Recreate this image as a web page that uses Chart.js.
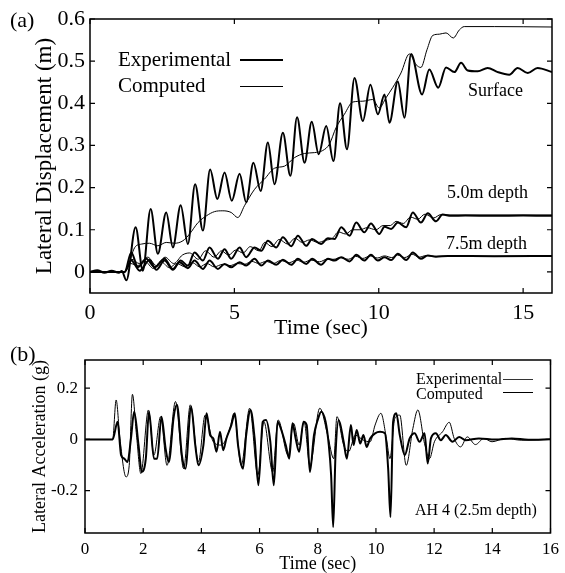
<!DOCTYPE html>
<html>
<head>
<meta charset="utf-8">
<script src="https://cdn.jsdelivr.net/npm/chart.js@4.4.1/dist/chart.umd.min.js"></script>
<style>
  body { margin: 0; background: #fff; }
  #wrap { position: relative; width: 565px; height: 573px; overflow: hidden; font-family: 'Liberation Serif', 'Times New Roman', serif; color: #000; }
  canvas { position: absolute; left: 0; }
  .t { position: absolute; white-space: nowrap; line-height: 1; }
  .ln { position: absolute; border-top: solid #000; height: 0; }
</style>
</head>
<body>
<div id="wrap">
  <canvas id="chartA" width="565" height="345" style="top:0"></canvas>
  <canvas id="chartB" width="565" height="233" style="top:340px"></canvas>

  <div class="t" style="left:10px;top:9px;font-size:22px">(a)</div>
  <div class="t" style="left:118px;top:49px;font-size:21px">Experimental</div>
  <div class="t" style="left:118px;top:75px;font-size:21px">Computed</div>
  <div class="ln" style="left:240px;top:59px;width:43px;border-top-width:2px"></div>
  <div class="ln" style="left:240px;top:86px;width:43px;border-top-width:1px"></div>
  <div class="t" style="left:468px;top:81px;font-size:18px">Surface</div>
  <div class="t" style="left:447px;top:183px;font-size:18px">5.0m depth</div>
  <div class="t" style="left:446px;top:234px;font-size:18px">7.5m depth</div>

  <div class="t" style="left:10px;top:343px;font-size:22px">(b)</div>
  <div class="t" style="left:416px;top:371px;font-size:16px">Experimental</div>
  <div class="t" style="left:416px;top:386px;font-size:16px">Computed</div>
  <div class="ln" style="left:503px;top:379px;width:30px;border-top-width:1px;border-top-color:#333"></div>
  <div class="ln" style="left:503px;top:392px;width:30px;border-top-width:1.5px"></div>
  <div class="t" style="left:415px;top:502px;font-size:16px">AH 4 (2.5m depth)</div>
</div>

<script>
// (a) lateral displacement, [time s, displacement m]
var surfaceExp = [[0,0],[0.25,0.004],[0.5,-0.002],[0.75,0.003],[1.0,-0.002],[1.1,0.002],[1.26,-0.02],
  [1.58,0.106],[1.83,0.003],[2.10,0.149],[2.35,0.043],[2.64,0.141],[2.87,0.058],[3.14,0.158],[3.39,0.066],
  [3.64,0.208],[3.91,0.098],[4.16,0.243],[4.41,0.173],[4.66,0.236],[4.91,0.169],[5.18,0.233],[5.41,0.165],
  [5.66,0.259],[5.91,0.192],[6.16,0.307],[6.39,0.208],[6.68,0.330],[6.94,0.228],[7.17,0.367],[7.43,0.259],
  [7.68,0.356],[7.92,0.279],[8.18,0.346],[8.43,0.263],[8.66,0.400],[8.90,0.291],[9.16,0.460],[9.45,0.358],
  [9.71,0.444],[9.97,0.374],[10.20,0.421],[10.37,0.354],[10.66,0.452],[10.89,0.366],[11.12,0.517],[11.50,0.421],
  [11.75,0.480],[12.06,0.437],[12.33,0.485],[12.62,0.474],[12.85,0.496],[13.08,0.478],[13.43,0.476],[13.77,0.484],
  [14.12,0.474],[14.52,0.468],[14.81,0.484],[15.16,0.472],[15.50,0.484],[16.0,0.474]];
var surfaceComp = [[0,0],[1.2,0],[1.3,0.01],[1.55,0.058],[1.78,0.066],[2.06,0.068],[2.35,0.062],[2.64,0.070],
  [2.93,0.068],[3.22,0.074],[3.45,0.090],[3.74,0.117],[4.03,0.133],[4.31,0.143],[4.60,0.145],[4.89,0.141],
  [5.12,0.129],[5.35,0.157],[5.70,0.196],[6.04,0.220],[6.39,0.246],[6.74,0.251],[7.08,0.271],[7.43,0.281],
  [7.77,0.283],[8.06,0.288],[8.29,0.303],[8.52,0.342],[8.81,0.374],[9.10,0.403],[9.45,0.405],[9.79,0.409],
  [10.02,0.389],[10.25,0.413],[10.48,0.437],[10.77,0.472],[11.06,0.517],[11.29,0.492],[11.46,0.485],[11.67,0.527],
  [11.87,0.561],[12.10,0.564],[12.33,0.567],[12.58,0.555],[12.79,0.574],[12.96,0.582],[14.0,0.582],[16.0,0.581]];
var depth50Exp = [[0,0],[1.2,0],[1.43,0.046],[1.66,0.011],[1.95,0.031],[2.24,0.011],[2.58,0.031],[2.87,0.007],
  [3.14,0.027],[3.39,0.015],[3.62,0.046],[3.91,0.027],[4.14,0.058],[4.43,0.031],[4.66,0.054],[4.89,0.031],
  [5.18,0.058],[5.41,0.035],[5.70,0.058],[5.93,0.050],[6.16,0.074],[6.45,0.058],[6.68,0.082],[6.97,0.061],
  [7.20,0.086],[7.49,0.062],[7.69,0.078],[8.00,0.066],[8.24,0.080],[8.47,0.078],[8.70,0.106],[8.99,0.086],
  [9.22,0.117],[9.50,0.094],[9.73,0.115],[10.02,0.090],[10.20,0.107],[10.43,0.102],[10.66,0.117],[10.95,0.106],
  [11.18,0.141],[11.46,0.117],[11.70,0.139],[11.98,0.120],[12.21,0.136],[12.50,0.133],[13.0,0.134],[14.0,0.133],
  [15.0,0.134],[16.0,0.133]];
var depth50Comp = [[0,0],[1.2,0],[1.45,0.03],[1.7,0.02],[2.0,0.035],[2.3,0.015],[2.6,0.035],[2.9,0.02],
  [3.2,0.04],[3.45,0.045],[3.75,0.03],[4.0,0.05],[4.3,0.035],[4.55,0.05],[4.8,0.04],[5.05,0.052],[5.3,0.045],
  [5.55,0.06],[5.85,0.05],[6.05,0.07],[6.3,0.06],[6.55,0.077],[6.85,0.066],[7.1,0.08],[7.35,0.07],[7.6,0.076],
  [7.9,0.07],[8.15,0.075],[8.4,0.08],[8.6,0.095],[8.85,0.09],[9.1,0.1],[9.35,0.1],[9.6,0.105],[9.9,0.1],
  [10.15,0.11],[10.4,0.11],[10.6,0.12],[10.85,0.115],[11.1,0.13],[11.35,0.125],[11.6,0.137],[11.9,0.128],
  [12.15,0.136],[12.5,0.135],[16.0,0.135]];
var depth75Exp = [[0,0],[1.2,0],[1.43,0.027],[1.72,0.003],[2.06,0.028],[2.30,0.005],[2.58,0.027],[2.87,0.005],
  [3.10,0.023],[3.39,0.009],[3.62,0.027],[3.91,0.007],[4.14,0.027],[4.43,0.007],[4.66,0.019],[4.89,0.011],
  [5.18,0.023],[5.41,0.015],[5.70,0.031],[5.93,0.015],[6.16,0.027],[6.45,0.017],[6.68,0.029],[6.97,0.017],
  [7.20,0.031],[7.49,0.019],[7.69,0.031],[8.00,0.017],[8.24,0.031],[8.47,0.027],[8.70,0.035],[8.99,0.025],
  [9.22,0.041],[9.50,0.027],[9.73,0.041],[9.97,0.027],[10.20,0.035],[10.43,0.028],[10.66,0.043],[10.95,0.028],
  [11.18,0.046],[11.46,0.031],[11.70,0.039],[11.98,0.036],[12.39,0.038],[14.0,0.037],[16.0,0.038]];
var depth75Comp = [[0,0],[1.2,0],[1.4,0.02],[1.65,0.015],[1.9,0.025],[2.2,0.008],[2.45,0.025],[2.75,0.01],
  [3.0,0.02],[3.3,0.012],[3.55,0.022],[3.8,0.012],[4.05,0.02],[4.3,0.012],[4.6,0.018],[4.85,0.015],[5.1,0.02],
  [5.35,0.018],[5.6,0.025],[5.85,0.02],[6.1,0.025],[6.35,0.02],[6.6,0.027],[6.9,0.022],[7.15,0.028],[7.4,0.023],
  [7.65,0.028],[7.95,0.024],[8.2,0.03],[8.45,0.03],[8.65,0.034],[8.95,0.03],[9.2,0.037],[9.45,0.032],[9.7,0.038],
  [9.95,0.033],[10.2,0.038],[10.45,0.034],[10.65,0.04],[10.9,0.034],[11.15,0.042],[11.4,0.035],[11.65,0.039],
  [12.0,0.037],[16.0,0.037]];

// (b) lateral acceleration at AH4, [time s, acceleration g]
var accelExp = [[0,0],[0.95,0],[1.12,0.069],[1.24,-0.061],[1.35,-0.075],[1.46,-0.088],[1.58,0.004],[1.69,0.108],
  [1.84,-0.022],[1.95,-0.127],[2.09,-0.075],[2.20,0.108],[2.37,-0.075],[2.48,-0.075],[2.63,0.089],[2.77,-0.035],
  [2.88,-0.088],[3.05,0.089],[3.16,0.135],[3.33,-0.061],[3.45,-0.114],[3.65,0.128],[3.79,-0.022],[3.90,-0.101],
  [4.07,-0.022],[4.18,0.102],[4.30,0.017],[4.41,0.004],[4.52,-0.048],[4.64,0.030],[4.75,-0.042],[4.86,0.004],
  [5.03,0.056],[5.15,0.102],[5.26,-0.022],[5.43,-0.114],[5.54,0.017],[5.69,0.115],[5.83,0.004],[5.96,-0.179],
  [6.11,0.069],[6.22,0.076],[6.37,-0.009],[6.49,-0.179],[6.62,0.069],[6.73,0.043],[6.90,-0.022],[7.02,-0.075],
  [7.13,0.063],[7.24,0.004],[7.36,-0.048],[7.51,0.069],[7.62,0.056],[7.73,-0.127],[7.87,0.017],[8.00,0.076],
  [8.12,0.108],[8.27,0.069],[8.38,-0.022],[8.46,-0.140],[8.53,-0.342],[8.61,-0.061],[8.72,0.076],[8.89,-0.009],
  [9.00,-0.075],[9.14,0.056],[9.23,-0.022],[9.34,0.037],[9.46,-0.016],[9.57,0.017],[9.68,-0.029],[9.80,0.004],
  [9.97,0.024],[10.14,0.030],[10.31,0.024],[10.42,-0.114],[10.50,-0.303],[10.59,0.069],[10.70,0.102],[10.82,0.017],
  [10.99,-0.061],[11.16,0.004],[11.33,0.024],[11.50,-0.009],[11.67,0.024],[11.78,-0.094],[11.89,0.004],[12.06,0.024],
  [12.23,-0.003],[12.40,0.017],[12.63,-0.009],[12.86,0.010],[13.08,-0.003],[13.54,0.004],[14.10,0],[14.67,0.004],
  [15.24,-0.001],[16.0,0.001]];
var accelComp = [[0,0],[0.95,0],[1.07,0.154],[1.20,0.004],[1.41,-0.146],[1.52,-0.101],[1.63,0.176],[1.77,0.017],
  [1.92,-0.133],[2.18,0.115],[2.37,-0.061],[2.60,0.089],[2.82,-0.101],[3.11,0.148],[3.39,-0.114],[3.62,0.135],
  [3.90,-0.088],[4.13,0.095],[4.41,-0.009],[4.69,-0.022],[4.98,0.043],[5.12,0.102],[5.37,-0.101],[5.66,0.122],
  [5.94,-0.140],[6.15,0.069],[6.45,-0.127],[6.64,0.076],[6.98,-0.061],[7.17,0.063],[7.36,-0.022],[7.53,0.069],
  [7.73,-0.101],[8.07,0.122],[8.34,0.017],[8.55,-0.075],[8.66,0.089],[8.89,-0.022],[9.06,-0.048],[9.29,0.017],
  [9.57,-0.003],[9.80,-0.009],[9.97,0.056],[10.17,0.102],[10.36,0.004],[10.48,-0.075],[10.65,0.082],[10.82,0.095],
  [11.04,-0.101],[11.27,0.043],[11.44,0.115],[11.67,-0.016],[11.84,-0.075],[12.01,-0.009],[12.29,0.030],[12.52,0.067],
  [12.69,0.004],[12.91,-0.029],[13.14,0.010],[13.42,-0.020],[13.71,0.004],[13.99,-0.009],[14.44,0.004],[15.01,-0.003],
  [16.0,0]];

Chart.defaults.font.family = "'Liberation Serif', 'Times New Roman', serif";
Chart.defaults.color = '#000';

function pts(arr) {
    return arr.map(function (p) { return { x: p[0], y: p[1] }; });
}

function series(arr, width) {
    return {
        data: pts(arr),
        borderColor: '#000',
        borderWidth: width,
        pointRadius: 0,
        fill: false,
        cubicInterpolationMode: 'monotone'
    };
}

// box round the plot and inward tick marks on all four sides
var frame = {
    id: 'frame',
    afterDraw: function (chart) {
        var ctx = chart.ctx, a = chart.chartArea, x = chart.scales.x, y = chart.scales.y;
        ctx.save();
        ctx.strokeStyle = '#000';
        ctx.lineWidth = 1.5;
        ctx.strokeRect(a.left, a.top, a.right - a.left, a.bottom - a.top);
        ctx.lineWidth = 1.2;
        ctx.beginPath();
        x.ticks.forEach(function (t) {
            var px = x.getPixelForValue(t.value);
            ctx.moveTo(px, a.bottom); ctx.lineTo(px, a.bottom - 5);
            ctx.moveTo(px, a.top); ctx.lineTo(px, a.top + 5);
        });
        y.ticks.forEach(function (t) {
            var py = y.getPixelForValue(t.value);
            ctx.moveTo(a.left, py); ctx.lineTo(a.left + 5, py);
            ctx.moveTo(a.right, py); ctx.lineTo(a.right - 5, py);
        });
        ctx.stroke();
        ctx.restore();
    }
};

function makeChart(id, datasets, o) {
    return new Chart(document.getElementById(id).getContext('2d'), {
        type: 'line',
        data: { datasets: datasets },
        options: {
            responsive: false,
            animation: false,
            devicePixelRatio: 1,
            layout: { padding: { left: 0, top: o.top, right: o.right, bottom: 0 } },
            plugins: { legend: { display: false }, tooltip: { enabled: false } },
            scales: {
                x: {
                    type: 'linear', min: 0, max: 16,
                    grid: { display: false, drawTicks: false }, border: { display: false },
                    ticks: { stepSize: o.xStep, includeBounds: false, padding: o.xPad, font: { size: o.tickSize }, maxRotation: 0 },
                    title: { display: true, text: 'Time (sec)', font: { size: o.titleSize, lineHeight: 1 }, padding: { top: 0, bottom: o.xTitlePad } },
                    afterFit: function (s) { s.height = o.xH; }
                },
                y: {
                    min: o.yMin, max: o.yMax,
                    grid: { display: false, drawTicks: false }, border: { display: false },
                    ticks: { stepSize: o.yStep, includeBounds: false, padding: o.yPad, font: { size: o.tickSize } },
                    title: { display: true, text: o.yTitle, font: { size: o.yTitleSize, lineHeight: 1 }, padding: { top: o.yTitlePad, bottom: 0 } },
                    afterFit: function (s) { s.width = o.yW; }
                }
            }
        },
        plugins: [frame]
    });
}

makeChart('chartA', [
    series(surfaceExp, 2), series(surfaceComp, 1),
    series(depth50Exp, 2), series(depth50Comp, 1),
    series(depth75Exp, 2), series(depth75Comp, 1)
], {
    top: 19, right: 13, xH: 52, yW: 90,
    xStep: 5, yStep: 0.1, yMin: -0.05, yMax: 0.6,
    tickSize: 22, titleSize: 22, yTitleSize: 23,
    xPad: 7, yPad: 5, xTitlePad: 6, yTitlePad: 33,
    yTitle: 'Lateral Displacement (m)'
});

makeChart('chartB', [
    series(accelExp, 2), series(accelComp, 1)
], {
    top: 20, right: 12, xH: 40, yW: 85,
    xStep: 2, yStep: 0.2, yMin: -0.365, yMax: 0.31,
    tickSize: 17, titleSize: 18, yTitleSize: 18,
    xPad: 6, yPad: 7, xTitlePad: 0, yTitlePad: 31,
    yTitle: 'Lateral Acceleration (g)'
});
</script>
</body>
</html>
